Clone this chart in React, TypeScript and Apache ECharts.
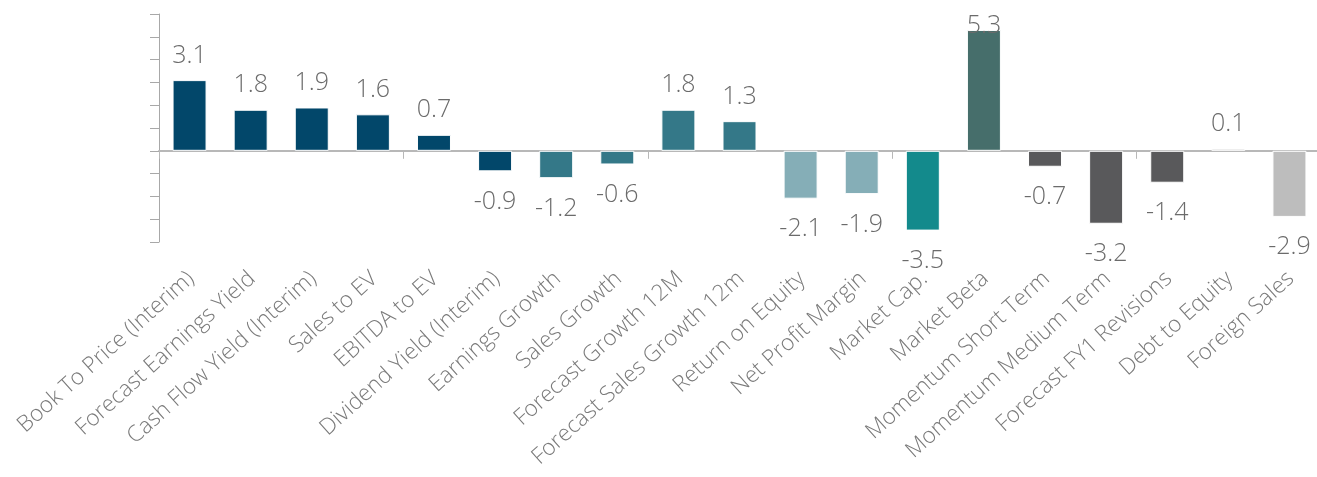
import React, { useEffect, useRef } from "react";
import * as echarts from "echarts";

const categories = [
  "Book To Price (Interim)",
  "Forecast Earnings Yield",
  "Cash Flow Yield (Interim)",
  "Sales to EV",
  "EBITDA to EV",
  "Dividend Yield (Interim)",
  "Earnings Growth",
  "Sales Growth",
  "Forecast Growth 12M",
  "Forecast Sales Growth 12m",
  "Return on Equity",
  "Net Profit Margin",
  "Market Cap.",
  "Market Beta",
  "Momentum Short Term",
  "Momentum Medium Term",
  "Forecast FY1 Revisions",
  "Debt to Equity",
  "Foreign Sales",
];

const values = [3.1, 1.8, 1.9, 1.6, 0.7, -0.9, -1.2, -0.6, 1.8, 1.3, -2.1, -1.9, -3.5, 5.3, -0.7, -3.2, -1.4, 0.1, -2.9];

const barColors = [
  "#02476a", "#02476a", "#02476a", "#02476a", "#02476a", "#02476a",
  "#347888", "#347888", "#347888", "#347888",
  "#85aeb7", "#85aeb7",
  "#138a8c",
  "#466e6b",
  "#59595b", "#59595b", "#59595b",
  "#d2d2d2",
  "#bdbdbd",
];

const FONT = "'Open Sans', 'Noto Sans', sans-serif";

export default function App() {
  const ref = useRef<HTMLDivElement>(null);
  useEffect(() => {
    if (!ref.current) return;
    const chart = echarts.init(ref.current, null, { renderer: "svg" });
    const data = values.map((v, i) => ({
      value: v,
      itemStyle: { color: barColors[i] },
      label: {
        position: v >= 0 ? "top" : "bottom",
        distance: v > 5 ? -6 : 15,
      },
    }));
    chart.setOption({
      animation: false,
      grid: [
        { left: 159, right: -3, top: 14, bottom: 235, outerBoundsMode: "none", containLabel: false },
        { left: 159, right: -3, top: 14, bottom: 235, outerBoundsMode: "none", containLabel: false },
      ],
      xAxis: [
        {
          type: "category",
          gridIndex: 0,
          data: categories,
          position: "bottom",
          axisLine: { show: true, onZero: true, lineStyle: { color: "#b8b8b8", width: 2 } },
          axisTick: { show: true, length: 8, lineStyle: { color: "#b8b8b8", width: 1 } },
          axisLabel: { show: false },
        },
        {
          type: "category",
          gridIndex: 1,
          data: categories,
          position: "bottom",
          axisLine: { show: false, onZero: false },
          axisTick: { show: false },
          axisLabel: {
            show: true,
            interval: 0,
            rotate: 42,
            margin: 32,
            fontSize: 22.5,
            fontWeight: 300,
            color: "#7a7a7a",
            fontFamily: FONT,
            hideOverlap: false,
          },
        },
      ],
      yAxis: [
        {
          type: "value",
          gridIndex: 0,
          min: -4,
          max: 6,
          interval: 1,
          axisLine: { show: true, lineStyle: { color: "#a8a8a8", width: 1 } },
          axisTick: { show: true, length: 9, lineStyle: { color: "#a8a8a8", width: 1 } },
          axisLabel: { show: false },
          splitLine: { show: false },
        },
        { type: "value", gridIndex: 1, min: -4, max: 6, show: false, splitLine: { show: false } },
      ],
      series: [
        {
          type: "bar",
          xAxisIndex: 0,
          yAxisIndex: 0,
          data,
          barWidth: 34,
          itemStyle: { borderColor: "#ffffff", borderWidth: 1 },
          label: {
            show: true,
            fontSize: 25,
            fontWeight: 300,
            color: "#6b6b6b",
            fontFamily: FONT,
            formatter: (p: any) => Number(p.value).toFixed(1),
          },
        },
      ],
    });
    return () => chart.dispose();
  }, []);
  return <div ref={ref} style={{ position: "fixed", left: 0, top: 0, width: 1317, height: 477 }} />;
}
